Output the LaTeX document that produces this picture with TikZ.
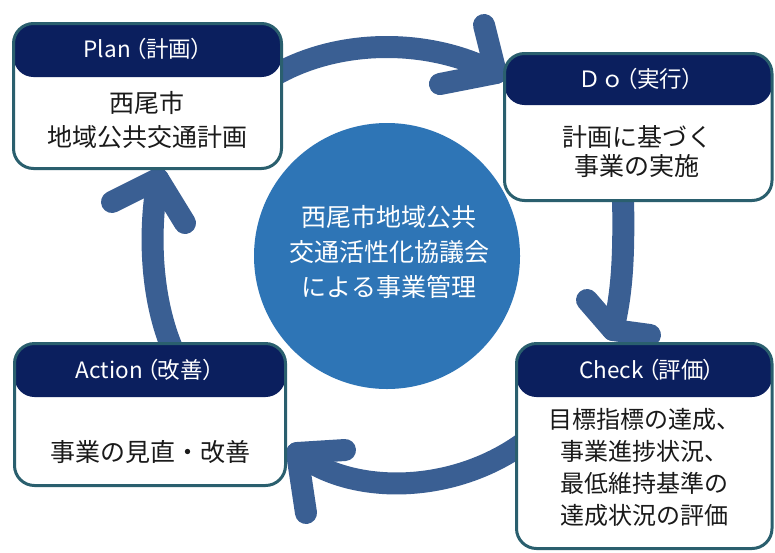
\documentclass[tikz,border=0pt]{standalone}
\usepackage{fontspec}
\setmainfont{Noto Sans CJK JP}
\newfontfamily\hdrfont[RawFeature=+palt]{Noto Sans CJK JP}
\newfontfamily\fwfont{Noto Sans CJK JP}
\definecolor{navy}{HTML}{0B1F5E}
\definecolor{tealb}{HTML}{2A5F6E}
\definecolor{arrowblue}{HTML}{3A5F93}
\definecolor{circblue}{HTML}{2E75B6}
\definecolor{bodytext}{HTML}{1A1A1A}
\begin{document}
\begin{tikzpicture}[x=1pt,y=-1pt,
  ring/.style={line width=22pt, draw=arrowblue, line cap=round, line join=round},
  pdcabox/.style={rectangle, rounded corners=20pt, draw=tealb, line width=3pt, fill=white, inner sep=0pt},
  hdr/.style={path picture={\fill[navy] (path picture bounding box.north west) rectangle ([yshift=-#1]path picture bounding box.north east);}},
  hdrtext/.style={text=white, font={\hdrfont\fontsize{22.5}{26}\selectfont}, inner sep=0pt},
  bodytxt/.style={text=bodytext, align=center, inner sep=0pt}
]
\useasboundingbox (0,0) rectangle (775,552);
\fill[white] (0,0) rectangle (775,552);

% arrow coordinates
\coordinate (a1s) at (275,75);
\coordinate (a1t) at (496,73);
\coordinate (a1l) at (484,25);
\coordinate (a1r) at (440,84);

\coordinate (a2s) at (623,195);
\coordinate (a2t) at (613,330);
\coordinate (a2l) at (587,300);
\coordinate (a2r) at (650,335);

\coordinate (a3s) at (522,444);
\coordinate (a3t) at (297,453);
\coordinate (a3l) at (345,450);
\coordinate (a3r) at (306,513);

\coordinate (a4s) at (172,348);
\coordinate (a4t) at (158,179);
\coordinate (a4l) at (112,202);
\coordinate (a4r) at (185,223);

% arrows (drawn beneath the boxes)
\draw[ring] (a1s) .. controls (340,38) and (430,38) .. (a1t);
\draw[ring] (a1l) -- (a1t) -- (a1r);
\draw[ring] (a2s) .. controls (624,250) and (623,290) .. (a2t);
\draw[ring] (a2l) -- (a2t) -- (a2r);
\draw[ring] (a3s) .. controls (450,495) and (350,495) .. (a3t);
\draw[ring] (a3l) -- (a3t) -- (a3r);
\draw[ring] (a4s) .. controls (148,290) and (150,220) .. (a4t);
\draw[ring] (a4l) -- (a4t) -- (a4r);

% centre circle
\node[circle, fill=circblue, minimum size=266pt, inner sep=0pt] (hub) at (387,256) {};
\node[text=white, align=center, inner sep=0pt, font={\fontsize{25}{35}\selectfont}] (hubtext) at (389,252)
  {西尾市地域公共\\交通活性化協議会\\による事業管理};

% boxes
\node[pdcabox, hdr=53.5pt, minimum width=268pt, minimum height=145pt] (plan) at (147.5,96) {};
\node[pdcabox, hdr=51.5pt, minimum width=267.5pt, minimum height=147pt] (do) at (638.25,127) {};
\node[pdcabox, hdr=53.5pt, minimum width=255.5pt, minimum height=205pt] (check) at (644.25,446) {};
\node[pdcabox, hdr=53.5pt, minimum width=271pt, minimum height=142pt] (act) at (150,414.5) {};

% header labels
\node[hdrtext] (planh) at (143,49) {Plan\hspace{4pt}（計画）};
\node[hdrtext] (doh) at (636,79) {{\fwfont Ｄｏ}\hspace{2pt}（実行）};
\node[hdrtext] (checkh) at (647,370) {Check\hspace{4pt}（評価）};
\node[hdrtext] (acth) at (145,370) {Action\hspace{4pt}（改善）};

% body labels
\node[bodytxt, font={\fontsize{25}{34}\selectfont}] (planb) at (147,120) {西尾市\\地域公共交通計画};
\node[bodytxt, font={\fontsize{25}{29}\selectfont}] (dob) at (637,152) {計画に基づく\\事業の実施};
\node[bodytxt, font={\fontsize{24}{32}\selectfont}] (checkb) at (644,467) {目標指標の達成、\\事業進捗状況、\\最低維持基準の\\達成状況の評価};
\node[bodytxt, font={\fontsize{25}{30}\selectfont}] (actb) at (150,452) {事業の見直・改善};
\end{tikzpicture}
\end{document}
